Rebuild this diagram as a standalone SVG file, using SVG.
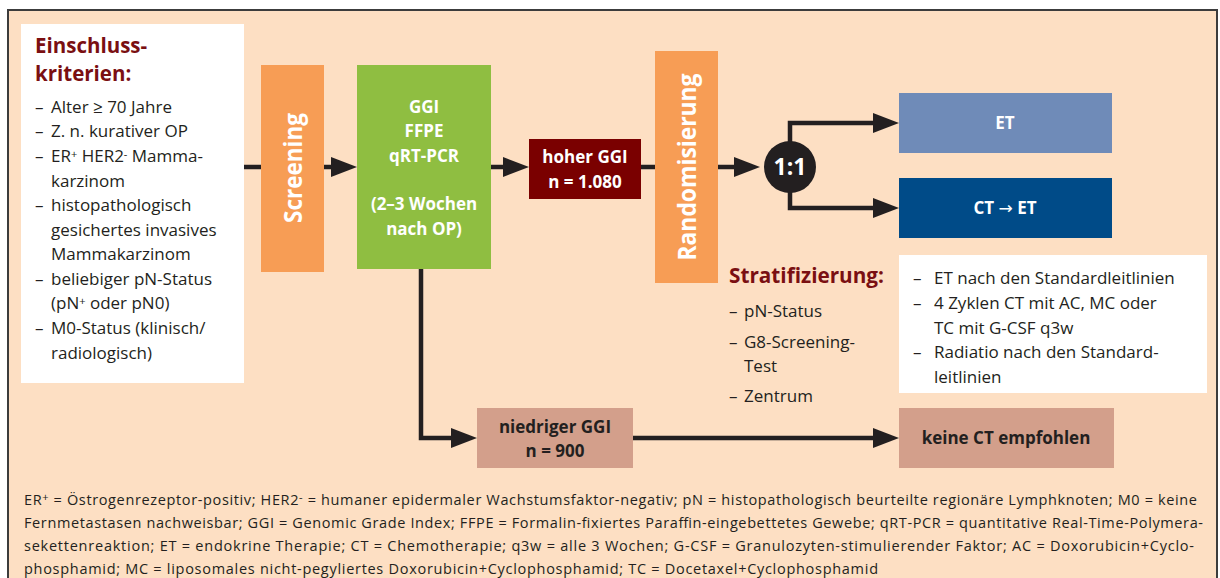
<svg xmlns="http://www.w3.org/2000/svg" width="1220" height="578" viewBox="0 0 1220 578">
<defs>
<style>
text{font-family:"Open Sans","Noto Sans","Liberation Sans",sans-serif;}
.lst{font-size:17px;fill:#231f20;}
.ttl{font-size:20.5px;font-weight:700;fill:#7a0f12;}
.wb{font-size:17px;font-weight:700;fill:#ffffff;text-anchor:middle;}
.db{font-size:17px;font-weight:700;fill:#231f20;text-anchor:middle;}
.rot{font-size:25px;font-weight:700;fill:#ffffff;text-anchor:middle;}
.ft{font-size:14.5px;fill:#231f20;}
.con{fill:none;stroke:#231f20;stroke-width:4.5;stroke-linejoin:miter;}
.sup{font-size:11px;}
.arr{font-family:"DejaVu Sans",sans-serif;font-weight:400;}
</style>
<marker id="ah" markerUnits="userSpaceOnUse" markerWidth="26" markerHeight="20" refX="14" refY="10" orient="auto">
<path d="M0,0 L26,10 L0,20 z" fill="#231f20"/>
</marker>
</defs>
<rect x="0" y="0" width="1220" height="578" fill="#ffffff"/>
<rect x="8" y="10" width="1209" height="590" fill="#fddfc3" stroke="#3c3c3c" stroke-width="2"/>

<g id="criteria">
<rect x="21" y="24" width="223" height="359" fill="#ffffff"/>
<text class="ttl" x="35" y="53">Einschluss-</text>
<text class="ttl" x="35" y="81">kriterien:</text>
<text class="lst" x="35" y="113">–</text><text class="lst" x="51" y="113">Alter ≥ 70 Jahre</text>
<text class="lst" x="35" y="137">–</text><text class="lst" x="51" y="137">Z. n. kurativer OP</text>
<text class="lst" x="35" y="162">–</text><text class="lst" x="51" y="162">ER<tspan class="sup" baseline-shift="40%">+</tspan> HER2<tspan class="sup" baseline-shift="40%">-</tspan> Mamma-</text>
<text class="lst" x="51" y="187">karzinom</text>
<text class="lst" x="35" y="211">–</text><text class="lst" x="51" y="211">histopathologisch</text>
<text class="lst" x="51" y="236">gesichertes invasives</text>
<text class="lst" x="51" y="260">Mammakarzinom</text>
<text class="lst" x="35" y="285">–</text><text class="lst" x="51" y="285">beliebiger pN-Status</text>
<text class="lst" x="51" y="309">(pN<tspan class="sup" baseline-shift="40%">+</tspan> oder pN0)</text>
<text class="lst" x="35" y="334">–</text><text class="lst" x="51" y="334">M0-Status (klinisch/</text>
<text class="lst" x="51" y="359">radiologisch)</text>
</g>

<g id="screening">
<rect x="261" y="65" width="63" height="207" fill="#f79d55"/>
<text class="rot" transform="translate(302,168) rotate(-90)" textLength="110" lengthAdjust="spacingAndGlyphs">Screening</text>
</g>

<g id="ggi">
<rect x="357" y="65" width="134" height="204" fill="#8fbe41"/>
<text class="wb" x="424" y="113">GGI</text>
<text class="wb" x="424" y="137">FFPE</text>
<text class="wb" x="424" y="162">qRT-PCR</text>
<text class="wb" x="424" y="210">(2–3 Wochen</text>
<text class="wb" x="424" y="235">nach OP)</text>
</g>

<g id="hoher">
<rect x="529" y="139" width="112" height="60" fill="#7a0000"/>
<text class="wb" x="585" y="163">hoher GGI</text>
<text class="wb" x="585" y="188">n = 1.080</text>
</g>

<g id="random">
<rect x="655" y="51" width="63" height="232" fill="#f79d55"/>
<text class="rot" transform="translate(696,167) rotate(-90)" textLength="187" lengthAdjust="spacingAndGlyphs">Randomisierung</text>
</g>

<g id="ratio">
<circle cx="790" cy="167" r="26" fill="#231f20"/>
<text class="wb" x="790" y="175" style="font-size:23px">1:1</text>
</g>

<g id="et">
<rect x="899" y="93" width="213" height="60" fill="#6f8bb8"/>
<text class="wb" x="1005" y="129">ET</text>
</g>

<g id="ctet">
<rect x="899" y="178" width="213" height="60" fill="#004b88"/>
<text class="wb" x="1005" y="214">CT <tspan class="arr">→</tspan> ET</text>
</g>

<g id="strat">
<text class="ttl" x="729" y="283" textLength="155" lengthAdjust="spacingAndGlyphs">Stratifizierung:</text>
<text class="lst" x="729" y="317">–</text><text class="lst" x="744" y="317">pN-Status</text>
<text class="lst" x="729" y="348">–</text><text class="lst" x="744" y="348">G8-Screening-</text>
<text class="lst" x="744" y="372">Test</text>
<text class="lst" x="729" y="402">–</text><text class="lst" x="744" y="402">Zentrum</text>
</g>

<g id="therapy">
<rect x="899" y="255" width="308" height="138" fill="#ffffff"/>
<text class="lst" x="913" y="284">–</text><text class="lst" x="934" y="284">ET nach den Standardleitlinien</text>
<text class="lst" x="913" y="309">–</text><text class="lst" x="934" y="309">4 Zyklen CT mit AC, MC oder</text>
<text class="lst" x="934" y="334">TC mit G-CSF q3w</text>
<text class="lst" x="913" y="358">–</text><text class="lst" x="934" y="358">Radiatio nach den Standard-</text>
<text class="lst" x="934" y="383">leitlinien</text>
</g>

<g id="niedriger">
<rect x="477" y="408" width="156" height="60" fill="#d39f8b"/>
<text class="db" x="555" y="433">niedriger GGI</text>
<text class="db" x="555" y="457">n = 900</text>
</g>

<g id="keine">
<rect x="899" y="408" width="215" height="60" fill="#d39f8b"/>
<text class="db" x="1006" y="444">keine CT empfohlen</text>
</g>

<g id="connectors">
<path class="con" d="M244,167 H261"/>
<path class="con" d="M324,167 H345" marker-end="url(#ah)"/>
<path class="con" d="M491,167 H517" marker-end="url(#ah)"/>
<path class="con" d="M641,167 H655"/>
<path class="con" d="M718,167 H748" marker-end="url(#ah)"/>
<path class="con" d="M790,142 V123 H887" marker-end="url(#ah)"/>
<path class="con" d="M790,192 V208 H887" marker-end="url(#ah)"/>
<path class="con" d="M421,269 V438 H465" marker-end="url(#ah)"/>
<path class="con" d="M633,438 H887" marker-end="url(#ah)"/>
</g>

<g id="footer">
<text class="ft" x="24" y="505" textLength="1173" lengthAdjust="spacing">ER<tspan class="sup" baseline-shift="40%">+</tspan> = Östrogenrezeptor-positiv; HER2<tspan class="sup" baseline-shift="40%">-</tspan> = humaner epidermaler Wachstumsfaktor-negativ; pN = histopathologisch beurteilte regionäre Lymphknoten; M0 = keine</text>
<text class="ft" x="24" y="528" textLength="1179" lengthAdjust="spacing">Fernmetastasen nachweisbar; GGI = Genomic Grade Index; FFPE = Formalin-fixiertes Paraffin-eingebettetes Gewebe; qRT-PCR = quantitative Real-Time-Polymera-</text>
<text class="ft" x="24" y="551" textLength="1170" lengthAdjust="spacing">sekettenreaktion; ET = endokrine Therapie; CT = Chemotherapie; q3w = alle 3 Wochen; G-CSF = Granulozyten-stimulierender Faktor; AC = Doxorubicin+Cyclo-</text>
<text class="ft" x="24" y="574" textLength="854" lengthAdjust="spacing">phosphamid; MC = liposomales nicht-pegyliertes Doxorubicin+Cyclophosphamid; TC = Docetaxel+Cyclophosphamid</text>
</g>
</svg>
